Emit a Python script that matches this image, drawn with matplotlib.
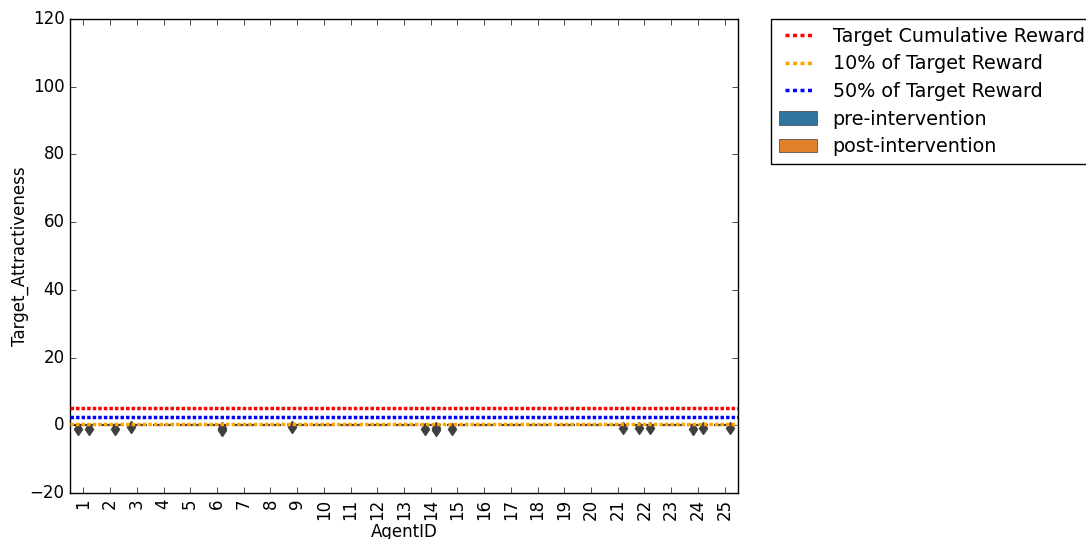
import numpy as np
import matplotlib
matplotlib.use('Agg')
import matplotlib.pyplot as plt
from matplotlib.patches import Patch
from matplotlib.lines import Line2D

plt.style.use('classic')
plt.rcParams['figure.facecolor'] = 'white'
plt.rcParams['savefig.facecolor'] = 'white'

agents = [str(i) for i in range(1, 26)]
n_samples = 12
# outlier values (all other samples are 0)
pre_outliers = {1: [-1.0], 3: [-0.6], 9: [-0.6], 14: [-1.1], 15: [-1.0],
                22: [-0.9], 24: [-1.2]}
post_outliers = {1: [-1.0], 2: [-1.1], 6: [-0.7, -1.4], 14: [-0.7, -1.3],
                 21: [-0.9], 22: [-0.9], 24: [-0.9], 25: [-0.9]}

target = 5.0
pct10 = 0.1 * target
pct50 = 0.5 * target

pre_color = '#3274a1'
post_color = '#e1812c'
edge = '#3f3f3f'


def group(outl, a):
    vals = outl.get(a, [])
    return np.array([0.0] * (n_samples - len(vals)) + vals)


pre_data = [group(pre_outliers, i + 1) for i in range(len(agents))]
post_data = [group(post_outliers, i + 1) for i in range(len(agents))]

fig = plt.figure(figsize=(10.86, 5.39), dpi=100)
ax = fig.add_axes([70 / 1086, 1 - 493 / 539, 668 / 1086, 474 / 539])

x = np.arange(len(agents))
for data, off, col in [(pre_data, -0.2, pre_color), (post_data, 0.2, post_color)]:
    ax.boxplot(data, positions=x + off, widths=0.39, patch_artist=True,
               showcaps=False, manage_ticks=False,
               boxprops=dict(facecolor=col, edgecolor=edge, linewidth=1.5),
               medianprops=dict(color=edge, linewidth=1.5),
               whiskerprops=dict(color=edge, linewidth=1.5),
               flierprops=dict(marker='d', markersize=6, markerfacecolor=edge,
                               markeredgecolor=edge))

dots = (0, (2.5, 1.5))
ax.axhline(target, color='red', linestyle=dots, linewidth=2.5, zorder=4)
ax.axhline(pct10, color='orange', linestyle=dots, linewidth=2.5, zorder=4)
ax.axhline(pct50, color='blue', linestyle=dots, linewidth=2.5, zorder=4)

ax.set_xlim(-0.5, len(agents) - 0.5)
ax.set_ylim(-20, 120)
ax.set_xticks(x)
ax.set_xticklabels(agents, rotation=90)
ax.set_xlabel('AgentID', labelpad=2)
ax.set_ylabel('Target_Attractiveness', labelpad=0)

ldots = (0, (2.9, 2.5))
handles = [Line2D([], [], color='red', linestyle=ldots, linewidth=2.5),
           Line2D([], [], color='orange', linestyle=ldots, linewidth=2.5),
           Line2D([], [], color='blue', linestyle=ldots, linewidth=2.5),
           Patch(facecolor=pre_color, edgecolor=edge, linewidth=0.5),
           Patch(facecolor=post_color, edgecolor=edge, linewidth=0.5)]
labels = ['Target Cumulative Reward', '10% of Target Reward', '50% of Target Reward',
          'pre-intervention', 'post-intervention']
ax.legend(handles, labels, loc='upper left', bbox_to_anchor=(1.05, 1),
          borderaxespad=0, fontsize=13.8, labelspacing=0.45)

fig.savefig('out.png', dpi=100)
